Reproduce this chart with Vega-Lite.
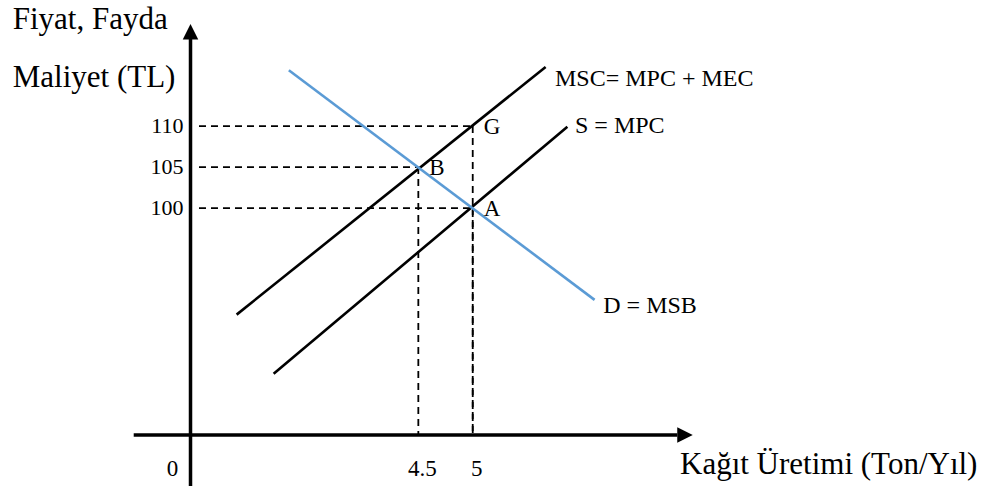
{
  "$schema": "https://vega.github.io/schema/vega-lite/v6.json",
  "width": 993,
  "height": 486,
  "autosize": "none",
  "padding": 0,
  "background": "white",
  "view": {"stroke": null},
  "config": {"text": {"font": "Liberation Serif", "color": "black"}},
  "datasets": {
    "curves": [
      {"curve": "MSC", "q": 2.83, "p": 87.0},
      {"curve": "MSC", "q": 5.67, "p": 117.2},
      {"curve": "MPC", "q": 3.17, "p": 79.8},
      {"curve": "MPC", "q": 5.87, "p": 109.9},
      {"curve": "MSB", "q": 3.31, "p": 116.8},
      {"curve": "MSB", "q": 6.12, "p": 88.8}
    ],
    "points": [
      {"pt": "G", "q": 5, "p": 110, "q0": 2.484, "p0": 72.32},
      {"pt": "B", "q": 4.5, "p": 105, "q0": 2.484, "p0": 72.32},
      {"pt": "A", "q": 5, "p": 100, "q0": 2.484, "p0": 72.32}
    ],
    "axes": [
      {"axis": "y", "q": 2.406, "p": 66.1, "q2": 2.406, "p2": 121},
      {"axis": "x", "q": 1.884, "p": 72.32, "q2": 6.88, "p2": 72.32}
    ],
    "arrows": [
      {"dir": "up", "q": 2.406, "p": 121.5},
      {"dir": "right", "q": 6.951, "p": 72.32}
    ],
    "yticks": [
      {"label": "110", "q": 2.406, "p": 110},
      {"label": "105", "q": 2.406, "p": 105},
      {"label": "100", "q": 2.406, "p": 100}
    ],
    "xticks": [
      {"label": "0", "q": 2.203, "p": 67.32},
      {"label": "4.5", "q": 4.5, "p": 67.32},
      {"label": "5", "q": 5, "p": 67.32}
    ],
    "curveLabels": [
      {"text": "MSC= MPC + MEC", "q": 5.756, "p": 114.88},
      {"text": "S = MPC", "q": 5.94, "p": 109.19},
      {"text": "D = MSB", "q": 6.2, "p": 87.16}
    ],
    "titles": [
      {"text": "Fiyat, Fayda", "q": 0.772, "p": 121.8},
      {"text": "Maliyet (TL)", "q": 0.772, "p": 114.72},
      {"text": "Kağıt Üretimi (Ton/Yıl)", "q": 6.905, "p": 67.57}
    ]
  },
  "encoding": {
    "x": {"field": "q", "type": "quantitative", "scale": {"domain": [0.655, 9.782], "nice": false, "zero": false}, "axis": null},
    "y": {"field": "p", "type": "quantitative", "scale": {"domain": [66.1, 125.37], "nice": false, "zero": false}, "axis": null}
  },
  "layer": [
    {
      "data": {"name": "points"},
      "mark": {"type": "rule", "strokeDash": [7, 5], "strokeWidth": 1.8, "color": "black"},
      "encoding": {
        "x": {"field": "q0", "type": "quantitative"},
        "x2": {"field": "q"}
      }
    },
    {
      "data": {"name": "points"},
      "mark": {"type": "rule", "strokeDash": [7, 5], "strokeWidth": 1.8, "color": "black"},
      "encoding": {
        "y2": {"field": "p0"}
      }
    },
    {
      "data": {"name": "curves"},
      "mark": {"type": "line", "strokeWidth": 2.6},
      "encoding": {
        "color": {"field": "curve", "type": "nominal", "scale": {"domain": ["MSC", "MPC", "MSB"], "range": ["#000000", "#000000", "#5B9BD5"]}, "legend": null}
      }
    },
    {
      "data": {"name": "axes"},
      "mark": {"type": "rule", "strokeWidth": 3.5, "color": "black"},
      "encoding": {
        "x2": {"field": "q2"},
        "y2": {"field": "p2"}
      }
    },
    {
      "data": {"name": "arrows"},
      "mark": {"type": "point", "filled": true, "size": 240, "opacity": 1, "color": "black", "strokeWidth": 0},
      "encoding": {
        "shape": {"field": "dir", "type": "nominal", "scale": {"domain": ["up", "right"], "range": ["M0,-1L-1,1L1,1Z", "M1,0L-1,-1L-1,1Z"]}, "legend": null}
      }
    },
    {
      "data": {"name": "points"},
      "mark": {"type": "text", "align": "left", "baseline": "alphabetic", "dx": 11, "dy": 7.5, "fontSize": 23},
      "encoding": {"text": {"field": "pt"}}
    },
    {
      "data": {"name": "yticks"},
      "mark": {"type": "text", "align": "right", "baseline": "alphabetic", "dx": -7, "dy": 7, "fontSize": 22},
      "encoding": {"text": {"field": "label"}}
    },
    {
      "data": {"name": "xticks"},
      "mark": {"type": "text", "align": "center", "baseline": "alphabetic", "dx": 4, "fontSize": 23},
      "encoding": {"text": {"field": "label"}}
    },
    {
      "data": {"name": "curveLabels"},
      "mark": {"type": "text", "align": "left", "baseline": "alphabetic", "fontSize": 24},
      "encoding": {"text": {"field": "text"}}
    },
    {
      "data": {"name": "titles"},
      "mark": {"type": "text", "align": "left", "baseline": "alphabetic", "fontSize": 31},
      "encoding": {"text": {"field": "text"}}
    }
  ]
}
